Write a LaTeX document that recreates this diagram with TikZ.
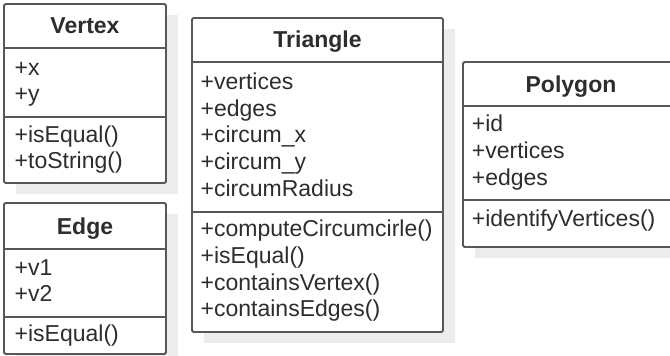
\documentclass[tikz,border=0pt]{standalone}
\usepackage{fontspec}
\setmainfont{Liberation Sans}
\definecolor{umlline}{RGB}{88,88,88}
\definecolor{umlshadow}{RGB}{236,236,236}
\definecolor{umltext}{RGB}{45,45,45}

\begin{document}
\begin{tikzpicture}[x=1pt,y=-1pt,
  classbox/.style={draw=umlline, line width=1.8pt, fill=white, rounded corners=1.5pt,
    anchor=north west, inner sep=0pt, outer sep=0pt},
  divider/.style={draw=umlline, line width=1.8pt},
  classtitle/.style={font=\fontsize{23}{26.7}\selectfont\bfseries, text=umltext,
    anchor=base, inner sep=0pt},
  member/.style={font=\fontsize{23}{26.7}\selectfont, text=umltext,
    anchor=base west, inner sep=0pt},
]
\clip (0,0) rectangle (670,356);

% drop shadows
\fill[umlshadow] (16,15) rectangle (178,194);
\fill[umlshadow] (16,214) rectangle (178,365);
\fill[umlshadow] (204,29) rectangle (455,343);
\fill[umlshadow] (475,73) rectangle (691,258);

% ---- Vertex ----
\node[classbox, minimum width=162pt, minimum height=179pt] (vertex) at (4,4) {};
\draw[divider] (4,48) -- (166,48);
\draw[divider] (4,117) -- (166,117);
\node[classtitle] (vertex-title) at (85,34) {Vertex};
\foreach \t [count=\i] in {+x,+y}
  \node[member] (vertex-a\i) at (14.5,{75+26.7*(\i-1)}) {\t};
\foreach \t [count=\i] in {+isEqual(),+toString()}
  \node[member] (vertex-m\i) at (14.5,{142+26.7*(\i-1)}) {\t};

% ---- Edge ----
\node[classbox, minimum width=162pt, minimum height=151pt] (edge) at (4,203) {};
\draw[divider] (4,249) -- (166,249);
\draw[divider] (4,317) -- (166,317);
\node[classtitle] (edge-title) at (85,234) {Edge};
\foreach \t [count=\i] in {+v1,+v2}
  \node[member] (edge-a\i) at (14.5,{275+26.7*(\i-1)}) {\t};
\node[member] (edge-m1) at (14.5,341) {+isEqual()};

% ---- Triangle ----
\node[classbox, minimum width=251pt, minimum height=314pt] (triangle) at (192,18) {};
\draw[divider] (192,62) -- (443,62);
\draw[divider] (192,212) -- (443,212);
\node[classtitle] (triangle-title) at (317.5,47) {Triangle};
\foreach \t [count=\i] in {+vertices,+edges,+circum\_x,+circum\_y,+circumRadius}
  \node[member] (triangle-a\i) at (200.5,{89.3+26.7*(\i-1)}) {\t};
\foreach \t [count=\i] in {+computeCircumcirle(),+isEqual(),+containsVertex(),+containsEdges()}
  \node[member] (triangle-m\i) at (200.5,{236.7+26.7*(\i-1)}) {\t};

% ---- Polygon ----
\node[classbox, minimum width=216pt, minimum height=185pt] (polygon) at (463,62) {};
\draw[divider] (463,106) -- (679,106);
\draw[divider] (463,200) -- (679,200);
\node[classtitle] (polygon-title) at (571,92) {Polygon};
\foreach \t [count=\i] in {+id,+vertices,+edges}
  \node[member] (polygon-a\i) at (471.7,{131.7+26.7*(\i-1)}) {\t};
\node[member] (polygon-m1) at (471.7,226.7) {+identifyVertices()};
\end{tikzpicture}
\end{document}
